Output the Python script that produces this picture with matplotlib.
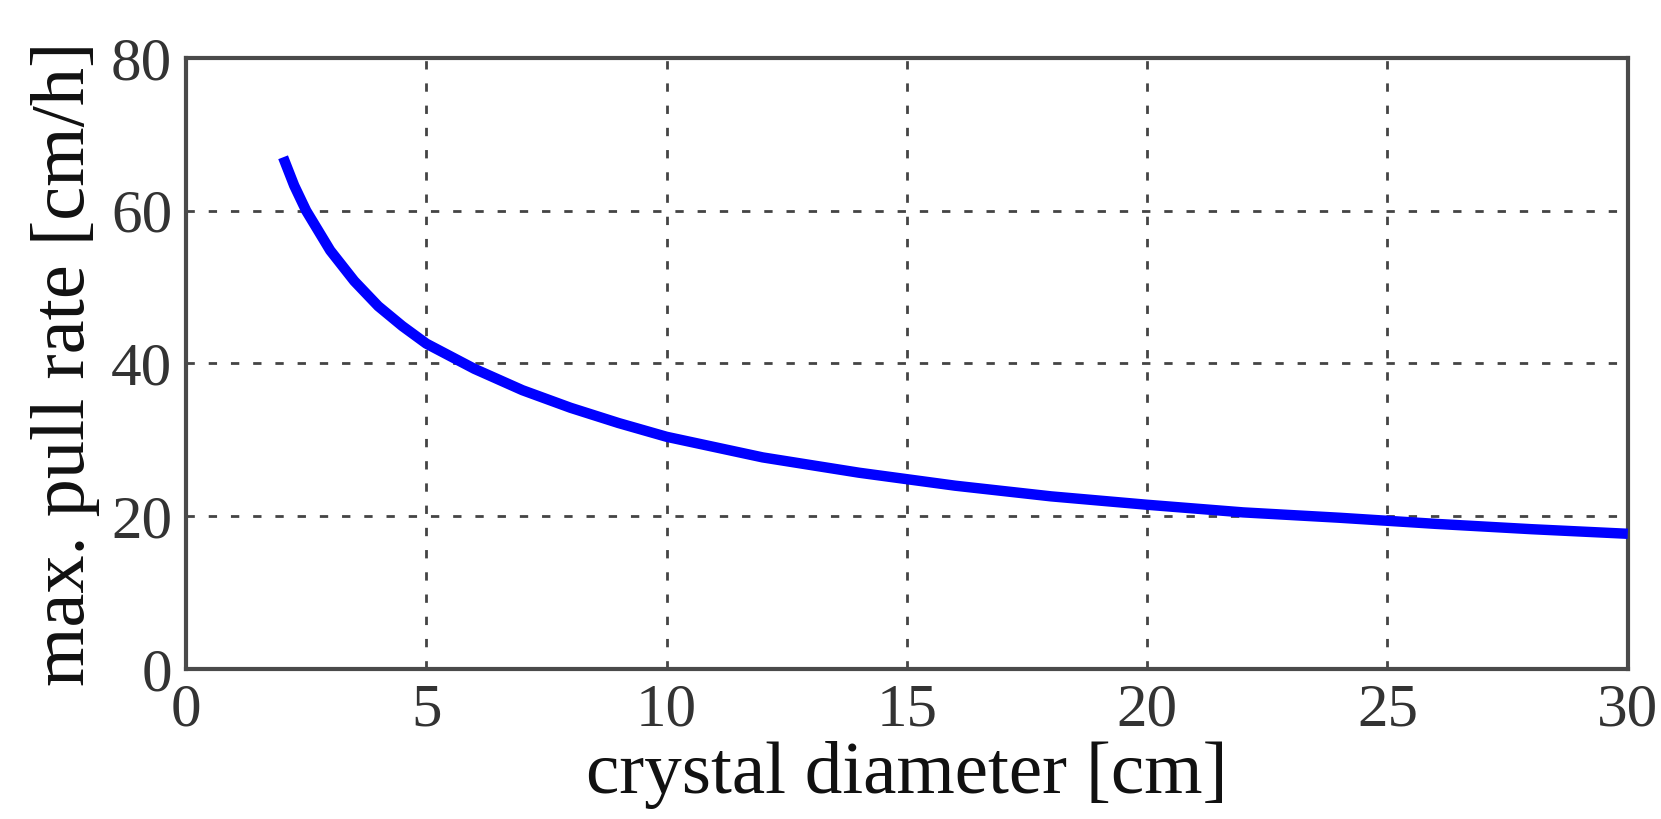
import matplotlib
matplotlib.use("Agg")
import matplotlib.pyplot as plt

# Data
diameter_cm = [2.02, 2.25, 2.5, 3.0, 3.5, 4.0, 4.5, 5.0, 6.0, 7.0, 8.0, 9.0, 10.0,
               12.0, 14.0, 16.0, 18.0, 20.0, 22.0, 24.0, 26.0, 28.0, 30.0]
pull_rate = [67.0, 63.3, 60.0, 54.8, 50.8, 47.5, 44.9, 42.6, 39.3, 36.5, 34.2, 32.2, 30.4,
             27.7, 25.7, 24.0, 22.6, 21.5, 20.5, 19.8, 19.0, 18.3, 17.7]
x_ticks = [0, 5, 10, 15, 20, 25, 30]
y_ticks = [0, 20, 40, 60, 80]
x_label = "crystal diameter [cm]"
y_label = "max. pull rate [cm/h]"

plt.rcParams['font.family'] = ['Liberation Serif', 'DejaVu Serif']
plt.rcParams['lines.scale_dashes'] = False

fig = plt.figure(figsize=(16.61, 8.19), dpi=100)
ax = fig.add_axes([0.112, 0.1832, 0.868, 0.746])

ax.plot(diameter_cm, pull_rate, color='#0000ff', linewidth=7.5, solid_capstyle='butt',
        solid_joinstyle='round', zorder=3)

ax.set_xlim(0, 30)
ax.set_ylim(0, 80)
ax.set_xticks(x_ticks)
ax.set_yticks(y_ticks)

ax.grid(True, color='#444444', linewidth=2.0, linestyle=(0, (6, 10)))
ax.set_axisbelow(True)

for s in ax.spines.values():
    s.set_color('#4a4a4a')
    s.set_linewidth(3.0)

ax.tick_params(axis='both', direction='in', length=0, labelsize=44,
               labelcolor='#333333', pad=10)

ax.set_xlabel(x_label, fontsize=54, color='#111111', labelpad=2)
ax.set_ylabel(y_label, fontsize=55, color='#111111', labelpad=8)

fig.savefig("out.png", dpi=100, facecolor='white')
